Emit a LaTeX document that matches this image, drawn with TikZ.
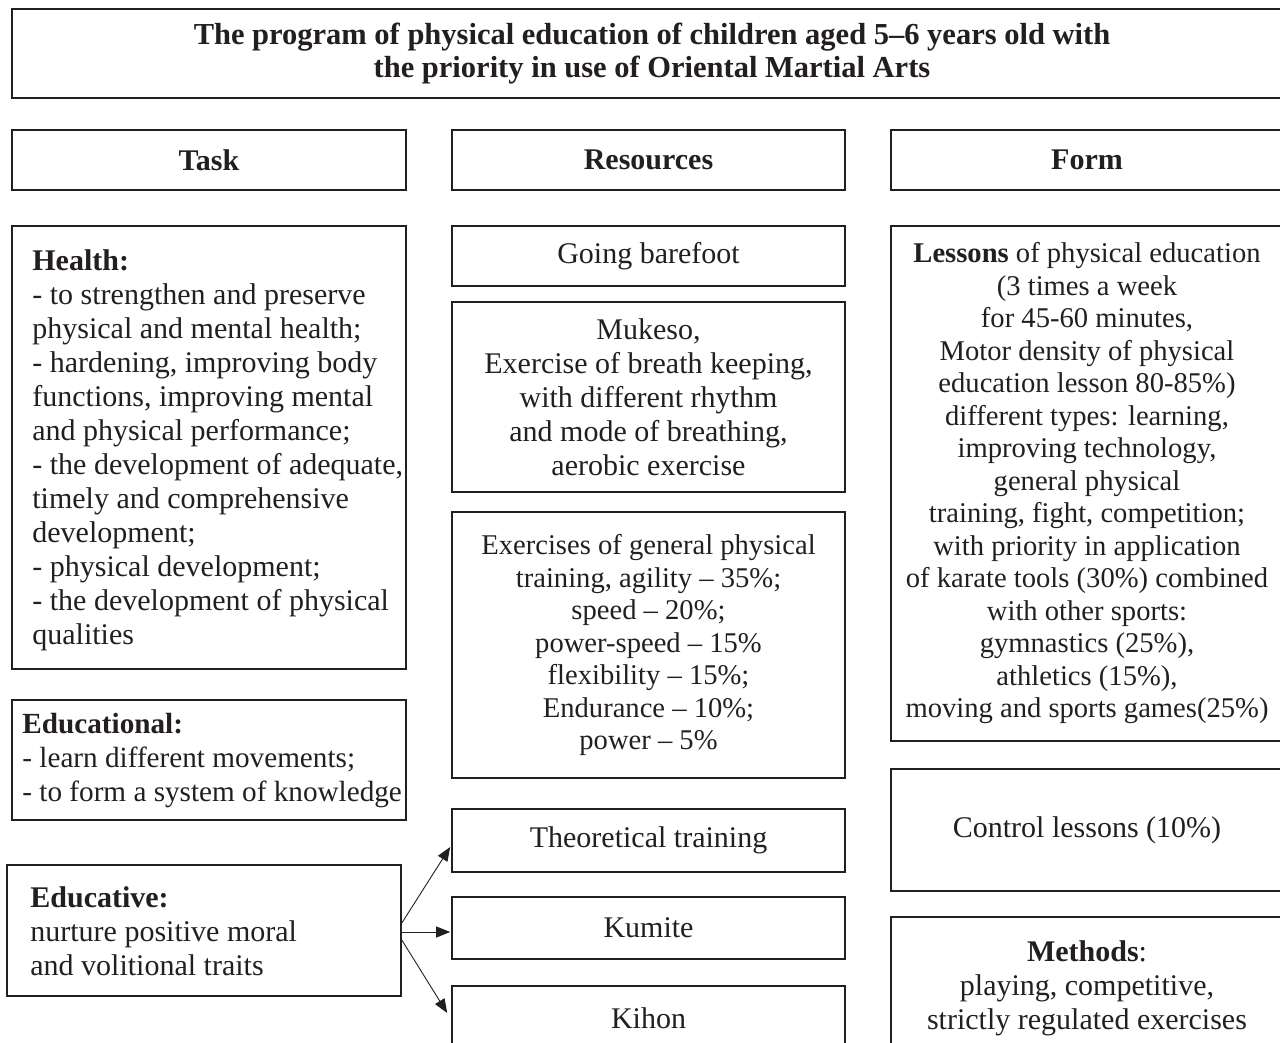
\documentclass[tikz,border=0pt]{standalone}
\usepackage{fontspec}
\setmainfont{Liberation Serif}
\usetikzlibrary{arrows.meta}
\definecolor{inkc}{HTML}{231F20}
\begin{document}
\begin{tikzpicture}[x=1pt,y=-1pt,
  box/.style={draw=inkc, line width=1.6pt, inner sep=0pt, text=inkc, align=center},
  bodytxt/.style={text=inkc, inner sep=0pt, align=left, anchor=west, font=\fontsize{30}{34}\selectfont},
  hdr/.style={font=\fontsize{30}{34}\selectfont\bfseries},
  ctr/.style={font=\fontsize{30}{34}\selectfont},
  ctrs/.style={font=\fontsize{28.6}{32.5}\selectfont},
  conn/.style={draw=inkc, line width=0.9pt, -{Triangle[length=14pt,width=11pt]}}]
\clip (0,0) rectangle (1280,1043);
\fill[white] (0,0) rectangle (1280,1043);

% title
\node[box, minimum width=1280pt, minimum height=89pt,
  font=\fontsize{30.5}{33}\selectfont\bfseries] (title) at (652,53.5)
  {The program of physical education of children aged 5--6 years old with\\the priority in use of Oriental Martial Arts};

% headers
\node[box, hdr, minimum width=394pt, minimum height=60pt] (task) at (209,160) {Task};
\node[box, hdr, minimum width=393pt, minimum height=60pt] (res) at (648.5,160) {Resources};
\node[box, hdr, minimum width=392pt, minimum height=60pt] (form) at (1087,160) {Form};

% task column
\node[box, minimum width=394pt, minimum height=443pt] (health) at (209,447.5) {};
\node[bodytxt] (healthtxt) at ([xshift=21pt,yshift=-3pt]health.west)
  {\textbf{Health:}\\
   - to strengthen and preserve\\
   physical and mental health;\\
   - hardening, improving body\\
   functions, improving mental\\
   and physical performance;\\
   - the development of adequate,\\
   timely and comprehensive\\
   development;\\
   - physical development;\\
   - the development of physical\\
   qualities};

\node[box, minimum width=394pt, minimum height=120pt] (educational) at (209,760) {};
\node[bodytxt, font=\fontsize{29.2}{34}\selectfont] (educationaltxt) at ([xshift=11pt,yshift=-1pt]educational.west)
  {\textbf{Educational:}\\
   - learn different movements;\\
   - to form a system of knowledge};

\node[box, minimum width=394pt, minimum height=131pt] (educative) at (204,930.5) {};
\node[bodytxt] (educativetxt) at ([xshift=24pt,yshift=-1pt]educative.west)
  {\textbf{Educative:}\\
   nurture positive moral\\
   and volitional traits};

% resources column
\node[box, ctr, minimum width=393pt, minimum height=60pt] (barefoot) at (648.5,256) {Going barefoot};
\node[box, ctr, minimum width=393pt, minimum height=190pt] (mukeso) at (648.5,397)
  {Mukeso,\\Exercise of breath keeping,\\with different rhythm\\and mode of breathing,\\aerobic exercise};
\node[box, ctrs, minimum width=393pt, minimum height=266pt] (exercises) at (648.5,645)
  {Exercises of general physical\\training, agility -- 35\%;\\speed -- 20\%;\\power-speed -- 15\%\\flexibility -- 15\%;\\Endurance -- 10\%;\\power -- 5\%};
\node[box, ctr, minimum width=393pt, minimum height=63pt] (theo) at (648.5,840.5) {Theoretical training};
\node[box, ctr, minimum width=393pt, minimum height=62pt] (kumite) at (648.5,928) {Kumite};
\node[box, ctr, minimum width=393pt, minimum height=64pt] (kihon) at (648.5,1018) {Kihon};

% form column
\node[box, ctrs, minimum width=392pt, minimum height=515pt] (lessons) at (1087,483.5)
  {\textbf{Lessons} of physical education\\(3 times a week\\for 45-60 minutes,\\Motor density of physical\\education lesson 80-85\%)\\different types: learning,\\improving technology,\\general physical\\training, fight, competition;\\with priority in application\\of karate tools (30\%) combined\\with other sports:\\gymnastics (25\%),\\athletics (15\%),\\moving and sports games(25\%)};
\node[box, ctr, minimum width=392pt, minimum height=122pt] (control) at (1087,830) {Control lessons (10\%)};
\node[box, ctr, minimum width=392pt, minimum height=143pt] (methods) at (1087,988.5)
  {\textbf{Methods}:\\playing, competitive,\\strictly regulated exercises};

% connectors
\draw[conn] ([yshift=7.5pt]educative.east) -- ([yshift=-6.5pt,xshift=-1pt]theo.west);
\draw[conn] ([yshift=-1.5pt]educative.east) -- ([yshift=-4pt,xshift=-1pt]kumite.west);
\draw[conn] ([yshift=-9.5pt]educative.east) -- ([yshift=5pt,xshift=-4pt]kihon.west);
\end{tikzpicture}
\end{document}
